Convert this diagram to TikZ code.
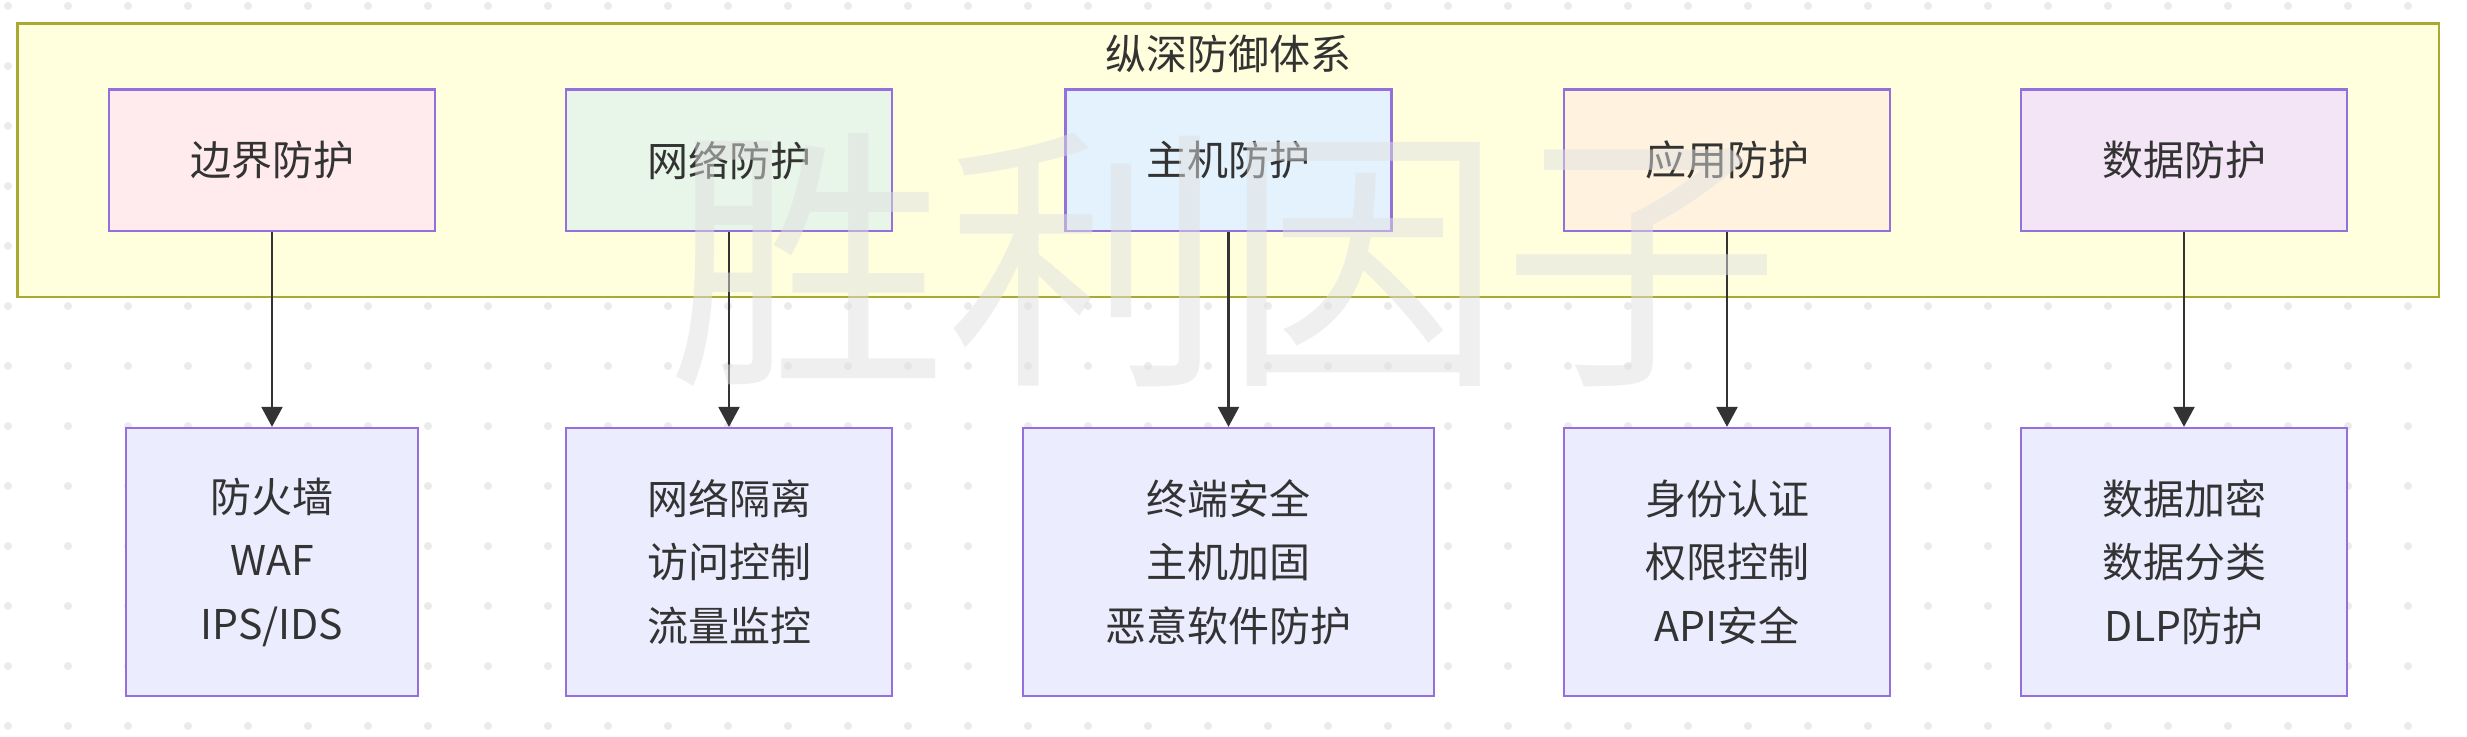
\documentclass[tikz,border=0pt]{standalone}
\usepackage{fontspec}
\setmainfont{Noto Sans CJK SC}
\usetikzlibrary{arrows.meta}
\definecolor{outerfill}{HTML}{FFFFDE}
\definecolor{outerline}{HTML}{AAAA33}
\definecolor{boxline}{HTML}{9370DB}
\definecolor{botfill}{HTML}{ECECFF}
\definecolor{fillA}{HTML}{FFEBEE}
\definecolor{fillB}{HTML}{E8F5E9}
\definecolor{fillC}{HTML}{E3F2FD}
\definecolor{fillD}{HTML}{FFF3E0}
\definecolor{fillE}{HTML}{F3E5F5}
\definecolor{textc}{HTML}{333333}
\definecolor{arrowc}{HTML}{333333}
\definecolor{dotc}{HTML}{EBEBEB}
\definecolor{wmark}{HTML}{E0E0E0}
\tikzset{
  outerbox/.style={draw=outerline, fill=outerfill, line width=1.3pt, inner sep=0pt,
    minimum width=1210.75pt, minimum height=136.75pt},
  titletext/.style={inner sep=0pt, text=textc, font=\fontsize{20.5}{24}\selectfont},
  topbox/.style={draw=boxline, line width=1.15pt, minimum width=163pt, minimum height=70.75pt,
    inner sep=0pt, text=textc, font=\fontsize{20.5}{24}\selectfont},
  botbox/.style={draw=boxline, fill=botfill, line width=1.15pt, minimum height=134pt,
    inner sep=0pt, align=center, text=textc, font=\fontsize{20.5}{31.75}\selectfont},
  arr/.style={draw=arrowc, line width=1.2pt, -{Triangle[length=10pt,width=10.5pt]}},
  wm/.style={inner sep=0pt, text=wmark, text opacity=0.5, font=\fontsize{139}{150}\selectfont},
}
\begin{document}
\begin{tikzpicture}[x=0.5pt,y=-0.5pt]
\useasboundingbox (0,0) rectangle (2467,737);
\fill[white] (0,0) rectangle (2467,737);
% dot grid
\foreach \i in {0,...,40}{
  \foreach \j in {0,...,12}{
    \fill[dotc] ({8+60*\i},{6+60*\j}) circle[radius=2pt];
  }
}
% outer cluster
\node[outerbox] (sys) at (1228.25,160.25) {};
\node[titletext] (title) at (1228.5,54) {纵深防御体系};
% top boxes
\node[topbox, fill=fillA] (t1) at (272,160.3) {边界防护};
\node[topbox, fill=fillB] (t2) at (729,160.3) {网络防护};
\node[topbox, fill=fillC] (t3) at (1228.5,160.3) {主机防护};
\node[topbox, fill=fillD] (t4) at (1727,160.3) {应用防护};
\node[topbox, fill=fillE] (t5) at (2184,160.3) {数据防护};
% bottom boxes
\node[botbox, minimum width=146pt] (b1) at (272,562) {防火墙\\WAF\\IPS/IDS};
\node[botbox, minimum width=163pt] (b2) at (729,562) {网络隔离\\访问控制\\流量监控};
\node[botbox, minimum width=205.25pt] (b3) at (1228.5,562) {终端安全\\主机加固\\恶意软件防护};
\node[botbox, minimum width=163pt] (b4) at (1727,562) {身份认证\\权限控制\\API安全};
\node[botbox, minimum width=163pt] (b5) at (2184,562) {数据加密\\数据分类\\DLP防护};
% arrows
\draw[arr] (t1.south) -- (b1.north);
\draw[arr] (t2.south) -- (b2.north);
\draw[arr] (t3.south) -- (b3.north);
\draw[arr] (t4.south) -- (b4.north);
\draw[arr] (t5.south) -- (b5.north);
% watermark
\node[wm] (wmk) at (1224,260) {胜利因子};
\end{tikzpicture}
\end{document}
